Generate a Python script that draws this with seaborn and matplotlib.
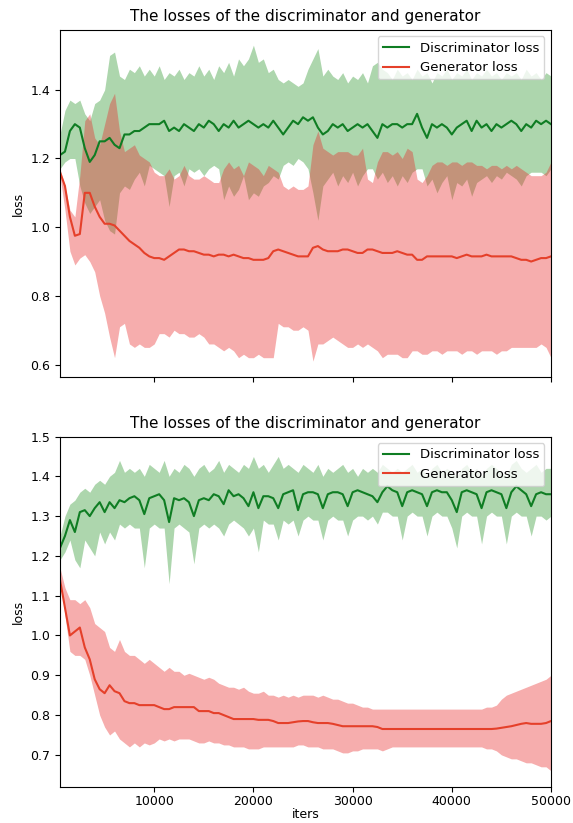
import matplotlib
matplotlib.use("Agg")
import matplotlib.pyplot as plt
import numpy as np
import pandas as pd
import seaborn as sns

# ---------------- data ----------------
iters = list(range(500, 50001, 500))

# top panel
top_d_mean = [1.21,1.22,1.28,1.30,1.29,1.23,1.19,1.21,1.25,1.25,
              1.26,1.24,1.23,1.27,1.27,1.28,1.28,1.29,1.30,1.30,
              1.30,1.31,1.28,1.29,1.28,1.30,1.29,1.28,1.30,1.29,
              1.31,1.30,1.28,1.30,1.29,1.31,1.29,1.30,1.31,1.30,
              1.29,1.30,1.29,1.31,1.29,1.27,1.29,1.31,1.30,1.32,
              1.31,1.32,1.29,1.27,1.28,1.30,1.29,1.30,1.28,1.29,
              1.30,1.29,1.30,1.28,1.26,1.30,1.29,1.30,1.30,1.29,
              1.30,1.30,1.33,1.29,1.26,1.30,1.29,1.30,1.29,1.27,
              1.29,1.30,1.31,1.28,1.31,1.29,1.30,1.28,1.30,1.29,
              1.30,1.31,1.30,1.28,1.30,1.29,1.31,1.30,1.31,1.30]
top_d_upper = [1.27,1.34,1.37,1.36,1.37,1.33,1.31,1.36,1.37,1.40,
               1.50,1.51,1.44,1.43,1.46,1.45,1.47,1.44,1.46,1.44,
               1.47,1.43,1.45,1.44,1.46,1.43,1.45,1.44,1.47,1.44,
               1.46,1.43,1.47,1.45,1.48,1.44,1.49,1.47,1.49,1.53,
               1.48,1.49,1.45,1.46,1.43,1.42,1.43,1.42,1.41,1.42,
               1.46,1.49,1.52,1.44,1.46,1.44,1.43,1.45,1.42,1.44,
               1.43,1.45,1.42,1.47,1.48,1.46,1.45,1.43,1.46,1.44,
               1.45,1.43,1.46,1.44,1.45,1.42,1.45,1.44,1.46,1.43,
               1.45,1.44,1.46,1.43,1.45,1.44,1.46,1.44,1.45,1.43,
               1.45,1.44,1.45,1.43,1.46,1.44,1.45,1.43,1.45,1.44]
top_d_lower = [1.17,1.19,1.20,1.20,1.12,1.07,1.04,1.06,1.08,1.02,
               0.99,0.98,1.10,1.12,1.11,1.14,1.16,1.12,1.18,1.17,
               1.16,1.15,1.06,1.15,1.16,1.12,1.17,1.16,1.17,1.15,
               1.17,1.18,1.17,1.08,1.12,1.09,1.11,1.15,1.08,1.10,
               1.09,1.12,1.13,1.15,1.14,1.18,1.19,1.18,1.20,1.19,
               1.17,1.10,1.02,1.12,1.14,1.16,1.12,1.15,1.13,1.16,
               1.12,1.15,1.17,1.17,1.14,1.16,1.13,1.15,1.12,1.15,
               1.13,1.16,1.17,1.17,1.12,1.14,1.10,1.13,1.15,1.08,
               1.13,1.12,1.14,1.09,1.13,1.14,1.15,1.13,1.15,1.14,
               1.16,1.15,1.14,1.12,1.15,1.16,1.16,1.16,1.15,1.17]
top_g_mean = [1.16,1.12,1.03,0.975,0.98,1.10,1.10,1.06,1.03,1.01,
              1.01,1.005,0.99,0.975,0.96,0.95,0.94,0.925,0.915,0.91,
              0.91,0.905,0.915,0.925,0.935,0.935,0.93,0.93,0.925,0.92,
              0.92,0.915,0.92,0.92,0.915,0.92,0.915,0.91,0.91,0.905,
              0.905,0.905,0.91,0.93,0.935,0.93,0.925,0.92,0.915,0.915,
              0.915,0.94,0.945,0.935,0.93,0.93,0.93,0.935,0.935,0.93,
              0.925,0.925,0.935,0.935,0.93,0.925,0.925,0.925,0.93,0.925,
              0.92,0.92,0.905,0.905,0.915,0.915,0.915,0.915,0.915,0.915,
              0.91,0.915,0.92,0.915,0.915,0.915,0.92,0.915,0.915,0.915,
              0.915,0.915,0.91,0.905,0.905,0.90,0.905,0.91,0.91,0.915]
top_g_upper = [1.17,1.12,1.05,1.03,1.15,1.31,1.33,1.26,1.24,1.30,
               1.36,1.39,1.28,1.22,1.23,1.24,1.21,1.20,1.19,1.16,
               1.15,1.15,1.17,1.14,1.15,1.18,1.15,1.14,1.14,1.15,
               1.14,1.13,1.13,1.17,1.19,1.17,1.18,1.15,1.19,1.18,
               1.17,1.15,1.18,1.17,1.16,1.12,1.11,1.12,1.11,1.11,
               1.12,1.24,1.28,1.23,1.22,1.21,1.22,1.22,1.22,1.21,
               1.21,1.23,1.14,1.13,1.19,1.22,1.22,1.21,1.22,1.20,
               1.23,1.22,1.14,1.13,1.15,1.18,1.19,1.19,1.18,1.19,
               1.19,1.18,1.19,1.19,1.18,1.18,1.17,1.18,1.18,1.17,
               1.18,1.17,1.18,1.17,1.16,1.15,1.15,1.15,1.16,1.19]
top_g_lower = [1.15,1.05,0.93,0.89,0.91,0.92,0.90,0.87,0.80,0.75,
               0.68,0.62,0.71,0.72,0.66,0.65,0.66,0.65,0.65,0.66,
               0.69,0.69,0.68,0.70,0.69,0.69,0.68,0.68,0.69,0.68,
               0.66,0.66,0.65,0.64,0.65,0.64,0.62,0.63,0.62,0.62,
               0.63,0.62,0.62,0.62,0.72,0.71,0.71,0.70,0.70,0.71,
               0.70,0.61,0.66,0.66,0.67,0.68,0.67,0.66,0.65,0.65,
               0.66,0.65,0.66,0.65,0.64,0.62,0.63,0.63,0.63,0.62,
               0.62,0.64,0.64,0.63,0.63,0.64,0.64,0.63,0.64,0.64,
               0.64,0.63,0.64,0.64,0.63,0.64,0.64,0.64,0.63,0.64,
               0.64,0.65,0.65,0.65,0.65,0.65,0.65,0.66,0.65,0.62]

# bottom panel
bot_d_mean = [1.22,1.25,1.29,1.26,1.31,1.315,1.30,1.32,1.335,1.31,
              1.335,1.32,1.34,1.335,1.345,1.35,1.34,1.305,1.345,1.35,
              1.355,1.34,1.285,1.345,1.34,1.345,1.335,1.30,1.34,1.345,
              1.34,1.355,1.35,1.33,1.365,1.35,1.355,1.345,1.325,1.36,
              1.32,1.35,1.35,1.345,1.32,1.355,1.36,1.365,1.315,1.355,
              1.36,1.36,1.355,1.32,1.355,1.36,1.36,1.355,1.325,1.36,
              1.365,1.36,1.355,1.35,1.335,1.36,1.375,1.365,1.36,1.325,
              1.36,1.365,1.36,1.355,1.325,1.36,1.365,1.36,1.36,1.34,
              1.31,1.36,1.365,1.36,1.355,1.32,1.36,1.365,1.36,1.355,
              1.32,1.36,1.375,1.365,1.355,1.325,1.355,1.36,1.355,1.355]
bot_d_upper = [1.25,1.30,1.33,1.34,1.36,1.37,1.36,1.38,1.39,1.38,
               1.40,1.41,1.44,1.41,1.42,1.41,1.42,1.40,1.43,1.42,
               1.41,1.44,1.40,1.42,1.41,1.43,1.42,1.40,1.42,1.43,
               1.41,1.42,1.44,1.41,1.43,1.42,1.41,1.43,1.42,1.45,
               1.42,1.43,1.41,1.43,1.45,1.42,1.43,1.42,1.41,1.43,
               1.42,1.41,1.43,1.40,1.42,1.41,1.42,1.43,1.41,1.42,
               1.40,1.42,1.41,1.42,1.41,1.43,1.42,1.41,1.42,1.41,
               1.42,1.43,1.41,1.42,1.40,1.42,1.43,1.41,1.42,1.41,
               1.40,1.42,1.43,1.41,1.42,1.40,1.42,1.43,1.42,1.41,
               1.40,1.43,1.44,1.42,1.41,1.42,1.43,1.41,1.42,1.42]
bot_d_lower = [1.19,1.21,1.24,1.19,1.17,1.24,1.22,1.20,1.26,1.23,
               1.26,1.24,1.28,1.27,1.28,1.27,1.27,1.17,1.27,1.28,
               1.27,1.27,1.13,1.27,1.28,1.27,1.26,1.18,1.27,1.28,
               1.27,1.28,1.27,1.25,1.28,1.29,1.28,1.27,1.25,1.27,
               1.21,1.29,1.28,1.28,1.24,1.29,1.28,1.29,1.25,1.29,
               1.30,1.29,1.29,1.24,1.29,1.30,1.29,1.29,1.25,1.29,
               1.30,1.30,1.29,1.30,1.28,1.31,1.31,1.30,1.30,1.24,
               1.30,1.31,1.30,1.30,1.25,1.30,1.31,1.30,1.30,1.27,
               1.22,1.30,1.31,1.30,1.30,1.23,1.30,1.31,1.30,1.30,
               1.23,1.30,1.31,1.30,1.30,1.25,1.30,1.30,1.29,1.30]
bot_g_mean = [1.14,1.07,1.00,1.01,1.02,0.97,0.94,0.89,0.865,0.855,
              0.875,0.86,0.855,0.835,0.83,0.83,0.825,0.825,0.825,0.825,
              0.82,0.815,0.815,0.82,0.82,0.82,0.82,0.82,0.81,0.81,
              0.81,0.805,0.805,0.80,0.795,0.79,0.79,0.79,0.79,0.79,
              0.788,0.788,0.788,0.785,0.78,0.78,0.78,0.782,0.784,0.785,
              0.785,0.782,0.78,0.78,0.78,0.778,0.775,0.772,0.772,0.772,
              0.772,0.772,0.772,0.772,0.77,0.765,0.765,0.765,0.765,0.765,
              0.765,0.765,0.765,0.765,0.765,0.765,0.765,0.765,0.765,0.765,
              0.765,0.765,0.765,0.765,0.765,0.765,0.765,0.765,0.766,0.768,
              0.77,0.772,0.775,0.778,0.78,0.778,0.778,0.778,0.78,0.785]
bot_g_upper = [1.17,1.12,1.09,1.09,1.08,1.09,1.07,1.03,1.02,1.01,
               0.97,0.96,0.99,0.96,0.95,0.95,0.94,0.93,0.94,0.93,
               0.92,0.91,0.92,0.91,0.91,0.90,0.905,0.90,0.895,0.89,
               0.895,0.89,0.88,0.875,0.87,0.87,0.865,0.87,0.86,0.855,
               0.855,0.86,0.85,0.85,0.845,0.85,0.845,0.85,0.845,0.85,
               0.85,0.85,0.845,0.85,0.845,0.84,0.84,0.835,0.83,0.83,
               0.825,0.82,0.82,0.815,0.815,0.815,0.815,0.815,0.815,0.815,
               0.815,0.815,0.815,0.815,0.815,0.815,0.815,0.815,0.815,0.815,
               0.815,0.815,0.815,0.815,0.815,0.815,0.82,0.82,0.825,0.84,
               0.85,0.855,0.86,0.865,0.87,0.875,0.88,0.885,0.89,0.90]
bot_g_lower = [1.15,1.05,0.96,0.95,0.95,0.94,0.90,0.85,0.80,0.77,
               0.75,0.76,0.74,0.73,0.72,0.73,0.72,0.73,0.725,0.73,
               0.74,0.735,0.74,0.735,0.74,0.74,0.74,0.735,0.73,0.73,
               0.735,0.73,0.73,0.725,0.725,0.72,0.72,0.72,0.715,0.715,
               0.715,0.72,0.72,0.72,0.72,0.72,0.72,0.72,0.725,0.725,
               0.72,0.72,0.72,0.715,0.715,0.715,0.71,0.705,0.705,0.71,
               0.71,0.715,0.715,0.715,0.715,0.71,0.715,0.72,0.72,0.72,
               0.72,0.72,0.72,0.72,0.72,0.72,0.72,0.72,0.72,0.72,
               0.72,0.72,0.72,0.72,0.72,0.72,0.715,0.715,0.71,0.70,
               0.695,0.69,0.69,0.685,0.68,0.68,0.675,0.67,0.67,0.66]

title = "The losses of the discriminator and generator"
labels = ["Discriminator loss", "Generator loss"]
xticks = [10000, 20000, 30000, 40000, 50000]
top_yticks = [0.6, 0.8, 1.0, 1.2, 1.4]
bot_yticks = [0.7, 0.8, 0.9, 1.0, 1.1, 1.2, 1.3, 1.4, 1.5]

# ---------------- style ----------------
D_LINE = "#0f7d23"
G_LINE = "#e5402a"
D_BAND = "#008000"
G_BAND = "#e82828"

fig = plt.figure(figsize=(5.73, 8.23), dpi=100)
ax1 = fig.add_axes([0.1047, 0.5416, 0.8569, 0.4223])
ax2 = fig.add_axes([0.1047, 0.0441, 0.8569, 0.4255], sharex=ax1)


def draw(ax, dm, du, dl, gm, gu, gl):
    df = pd.DataFrame({"iters": iters, "d": dm, "g": gm})
    ax.fill_between(iters, dl, du, color=D_BAND, alpha=0.32, lw=0)
    ax.fill_between(iters, gl, gu, color=G_BAND, alpha=0.38, lw=0)
    sns.lineplot(data=df, x="iters", y="d", ax=ax, color=D_LINE, lw=1.5,
                 label=labels[0])
    sns.lineplot(data=df, x="iters", y="g", ax=ax, color=G_LINE, lw=1.5,
                 label=labels[1])
    ax.set_title(title, fontsize=11)
    ax.set_ylabel("loss", fontsize=9)
    ax.tick_params(labelsize=9)
    ax.legend(loc="upper right", fontsize=9.5)


draw(ax1, top_d_mean, top_d_upper, top_d_lower, top_g_mean, top_g_upper, top_g_lower)
draw(ax2, bot_d_mean, bot_d_upper, bot_d_lower, bot_g_mean, bot_g_upper, bot_g_lower)

ax1.set_xlim(500, 50000)
ax1.set_xticks(xticks)
ax1.set_ylim(0.563, 1.575)
ax1.set_yticks(top_yticks)
ax1.tick_params(labelbottom=False)
ax1.set_xlabel("")

ax2.set_ylim(0.62, 1.50)
ax2.set_yticks(bot_yticks)
ax2.tick_params(axis="x", pad=2.5)
ax2.set_xlabel("iters", fontsize=9, labelpad=0)

fig.savefig("out.png", dpi=100)
